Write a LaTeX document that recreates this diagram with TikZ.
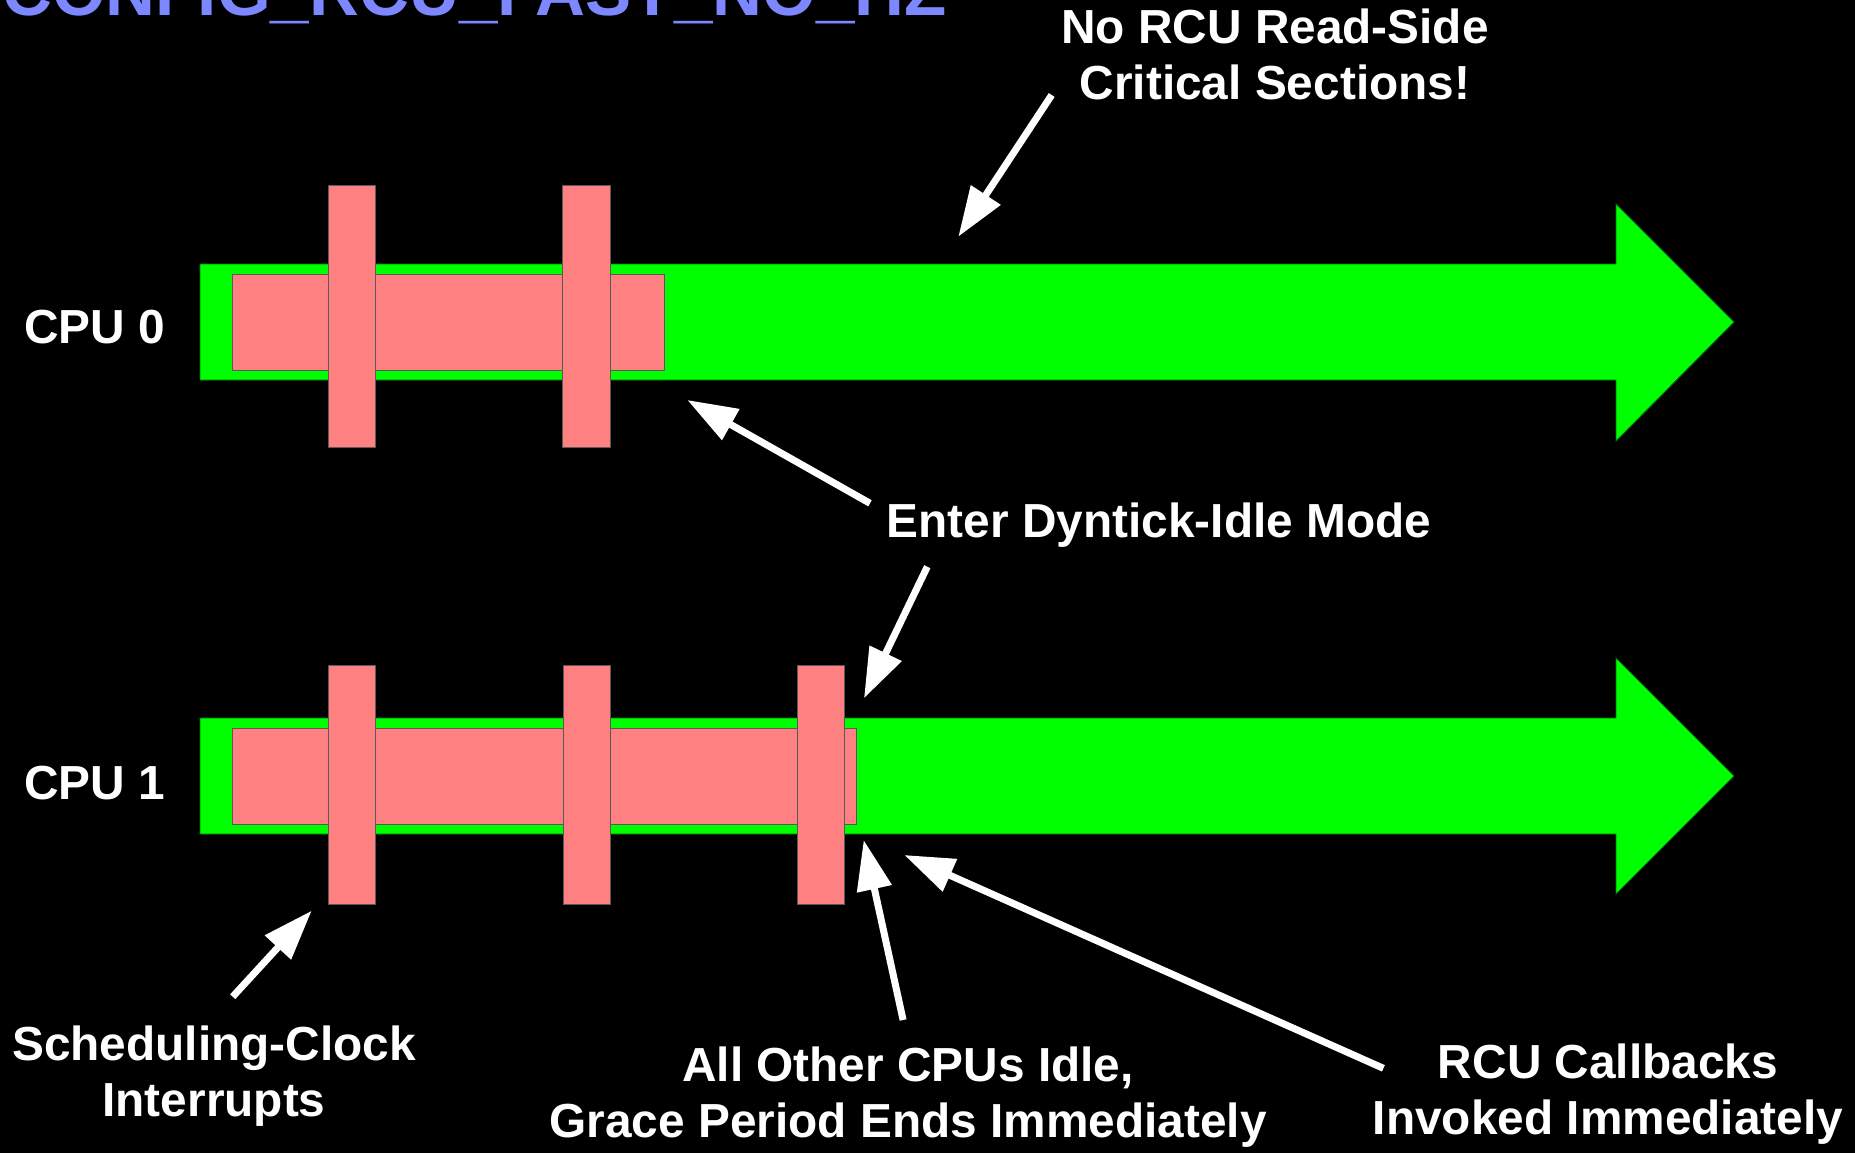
\documentclass[tikz,border=0pt]{standalone}
\usepackage{fontspec}
\setmainfont{Liberation Sans}
\usetikzlibrary{arrows.meta}
\definecolor{bandgreen}{RGB}{0,255,0}
\definecolor{pinkfill}{RGB}{255,128,128}
\definecolor{titleblue}{RGB}{125,135,255}
\tikzset{
  lbl/.style={text=white, inner sep=0pt, align=center, font=\fontsize{47.8}{56}\selectfont\bfseries},
  cpulbl/.style={text=white, inner sep=0pt, font=\fontsize{47.8}{56}\selectfont\bfseries},
  band/.style={fill=bandgreen, draw=green!45!black, line width=0.8pt},
  pinkbox/.style={fill=pinkfill, draw=black!65, line width=1pt},
  callout/.style={draw=white, line width=7pt, -{Triangle[length=50pt,width=34pt]}},
}
\begin{document}
\begin{tikzpicture}[x=1pt,y=-1pt]
\useasboundingbox (0,0) rectangle (1855,1153);
\clip (0,0) rectangle (1855,1153);
\fill[black] (0,0) rectangle (1855,1153);

% title (cut off at top, as in the reference)
\node[anchor=base west, inner sep=0pt, text=titleblue, font=\fontsize{69.1}{80}\selectfont\bfseries] (title) at (2,16) {CONFIG\_RCU\_FAST\_NO\_HZ};

% CPU 0
\draw[band] (200,264) -- (1616,264) -- (1616,204) -- (1734,322) -- (1616,441) -- (1616,380) -- (200,380) -- cycle;
\draw[pinkbox] (232,274) rectangle (664,370);
\draw[pinkbox] (328,185) rectangle (375.7,447);
\draw[pinkbox] (562.7,185) rectangle (610,447);
\node[cpulbl, anchor=base west] (cpu0) at (24,343) {CPU 0};

% CPU 1
\draw[band] (200,718) -- (1616,718) -- (1616,658) -- (1734,776) -- (1616,894) -- (1616,834) -- (200,834) -- cycle;
\draw[pinkbox] (232,728) rectangle (856,824);
\draw[pinkbox] (328,665) rectangle (375.6,904.3);
\draw[pinkbox] (563,665) rectangle (610,904.3);
\draw[pinkbox] (797,665) rectangle (844,904.3);
\node[cpulbl, anchor=base west] (cpu1) at (24,799) {CPU 1};

% labels (base anchor = baseline of last line)
\node[lbl, anchor=base] (norcu) at (1275,100) {No RCU Read-Side\\Critical Sections!};
\node[lbl, anchor=base] (enter) at (1159,537) {Enter Dyntick-Idle Mode};
\node[lbl, anchor=base] (sched) at (214,1116) {Scheduling-Clock\\Interrupts};
\node[lbl, anchor=base] (allother) at (908,1137) {All Other CPUs Idle,\\Grace Period Ends Immediately};
\node[lbl, anchor=base] (rcucb) at (1608,1134) {RCU Callbacks\\Invoked Immediately};

% arrow end points
\coordinate (a1s) at (1051.7,95);   \coordinate (a1t) at (958.3,236.7);
\coordinate (a2s) at (870,503.3);   \coordinate (a2t) at (687.3,400);
\coordinate (a3s) at (927.3,566.7); \coordinate (a3t) at (864,698.3);
\coordinate (a4s) at (232.7,996.7); \coordinate (a4t) at (311.7,910.7);
\coordinate (a5s) at (903.1,1020);  \coordinate (a5t) at (863.7,840);
\coordinate (a6s) at (1383.4,1068.3); \coordinate (a6t) at (904.3,855);

\draw[callout] (a1s) -- (a1t);
\draw[callout] (a2s) -- (a2t);
\draw[callout] (a3s) -- (a3t);
\draw[callout] (a4s) -- (a4t);
\draw[callout] (a5s) -- (a5t);
\draw[callout] (a6s) -- (a6t);
\end{tikzpicture}
\end{document}
